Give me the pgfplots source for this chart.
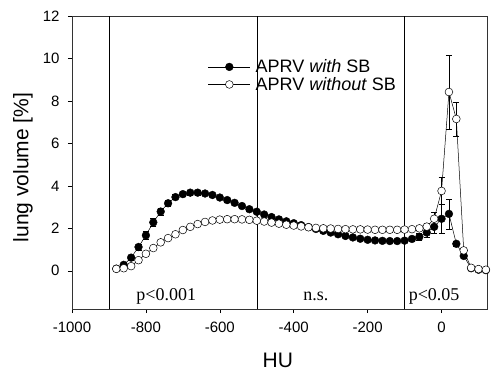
\documentclass[border=0pt]{standalone}
\usepackage{pgfplots}
\pgfplotsset{compat=1.18}
\usepackage{pgfplotstable}
\usepackage{fontspec}
\setmainfont{Liberation Sans}
\newfontfamily\timesf{Liberation Serif}

\pgfplotstableread{
x y e
-880 0.10 0.05
-860 0.28 0.08
-840 0.62 0.12
-820 1.12 0.15
-800 1.67 0.18
-780 2.28 0.18
-760 2.79 0.18
-740 3.18 0.15
-720 3.47 0.12
-700 3.61 0.10
-680 3.68 0.10
-660 3.68 0.10
-640 3.64 0.10
-620 3.57 0.08
-600 3.45 0.08
-580 3.33 0.08
-560 3.20 0.08
-540 3.05 0.08
-520 2.90 0.08
-500 2.78 0.06
-480 2.65 0.06
-460 2.53 0.06
-440 2.42 0.06
-420 2.33 0.06
-400 2.24 0.06
-380 2.15 0.06
-360 2.06 0.06
-340 1.97 0.06
-320 1.88 0.06
-300 1.80 0.06
-280 1.72 0.06
-260 1.64 0.06
-240 1.57 0.06
-220 1.51 0.06
-200 1.46 0.06
-180 1.43 0.06
-160 1.41 0.06
-140 1.40 0.06
-120 1.40 0.06
-100 1.42 0.08
-80 1.50 0.10
-60 1.60 0.15
-40 1.80 0.20
-20 2.07 0.30
0 2.45 0.70
20 2.68 0.70
40 1.27 0.10
60 0.70 0.10
80 0.12 0.05
100 0.05 0.03
120 0.03 0.02
}\withSB

\pgfplotstableread{
x y e
-880 0.09 0.04
-860 0.12 0.05
-840 0.22 0.06
-820 0.50 0.08
-800 0.80 0.10
-780 1.07 0.10
-760 1.34 0.10
-740 1.54 0.10
-720 1.72 0.10
-700 1.92 0.10
-680 2.07 0.08
-660 2.20 0.08
-640 2.30 0.08
-620 2.37 0.08
-600 2.41 0.08
-580 2.43 0.08
-560 2.43 0.08
-540 2.42 0.08
-520 2.40 0.06
-500 2.36 0.06
-480 2.32 0.06
-460 2.27 0.06
-440 2.22 0.06
-420 2.17 0.06
-400 2.13 0.06
-380 2.09 0.06
-360 2.05 0.06
-340 2.02 0.06
-320 2.00 0.06
-300 1.99 0.06
-280 1.97 0.06
-260 1.96 0.06
-240 1.95 0.06
-220 1.95 0.06
-200 1.94 0.06
-180 1.93 0.06
-160 1.93 0.06
-140 1.93 0.06
-120 1.93 0.06
-100 1.94 0.06
-80 1.96 0.08
-60 2.00 0.10
-40 2.08 0.15
-20 2.45 0.30
0 3.76 0.63
20 8.42 1.75
40 7.15 0.80
60 0.96 0.10
80 0.14 0.05
100 0.08 0.03
120 0.05 0.02
}\withoutSB

\begin{document}
\begin{tikzpicture}
\begin{axis}[
  scale only axis,
  width=415pt, height=293pt,
  xmin=-1000, xmax=123,
  ymin=-1.8, ymax=12,
  xtick={-1000,-800,-600,-400,-200,0},
  xticklabels={-1000,-800,-600,-400,-200,0},
  ytick={0,2,4,6,8,10,12},
  /pgf/number format/assume math mode=true,
  tick align=outside,
  xtick pos=left, ytick pos=left,
  major tick length=4pt,
  tick style={black, line width=0.5pt},
  axis line style={black!80, line width=0.6pt},
  ticklabel style={font=\fontsize{15}{18}\selectfont},
  xticklabel style={yshift=-5pt},
  yticklabel style={xshift=-5pt},
  xlabel={HU},
  ylabel={lung volume [\%]},
  label style={font=\fontsize{21}{25}\selectfont},
  xlabel style={at={(axis description cs:0.496,-0.177)}, anchor=center},
  ylabel style={at={(axis description cs:-0.118,0.483)}, anchor=center},
  clip=false,
  legend style={at={(0.325,0.862)}, anchor=north west, draw=none, fill=none,
    font=\fontsize{18}{21}\selectfont, row sep=-1pt, inner sep=1pt,
    nodes={inner xsep=5pt}},
  legend cell align=left,
  legend image code/.code={%
    \draw[mark repeat=2,mark phase=2,#1] plot coordinates {(0pt,0pt)(21pt,0pt)(42pt,0pt)};},
]
\addplot[black, line width=0.5pt, forget plot] coordinates {(-900,-1.8) (-900,12)};
\addplot[black, line width=0.5pt, forget plot] coordinates {(-500,-1.8) (-500,12)};
\addplot[black, line width=0.5pt, forget plot] coordinates {(-100,-1.8) (-100,12)};

\addplot[black, line width=0.5pt, mark=*, mark size=3.9pt,
  mark options={fill=black, draw=black, line width=0.4pt},
  error bars/.cd, y dir=both, y explicit,
  error bar style={black, line width=0.4pt},
  error mark options={rotate=90, mark size=3pt, black, line width=0.4pt}]
  table[x=x, y=y, y error=e] {\withSB};
\addlegendentry{APRV \textit{with} SB}

\addplot[black, line width=0.5pt, mark=*, mark size=3.9pt,
  mark options={fill=white, draw=black, line width=0.5pt},
  error bars/.cd, y dir=both, y explicit,
  error bar style={black, line width=0.4pt},
  error mark options={rotate=90, mark size=3pt, black, line width=0.4pt}]
  table[x=x, y=y, y error=e] {\withoutSB};
\addlegendentry{APRV \textit{without} SB}

\node[font=\timesf\fontsize{18}{21}\selectfont] at (axis cs:-745,-1.22) {p<0.001};
\node[font=\timesf\fontsize{18}{21}\selectfont] at (axis cs:-340,-1.22) {n.s.};
\node[font=\timesf\fontsize{18}{21}\selectfont] at (axis cs:-20,-1.22) {p<0.05};
\end{axis}
\pgfresetboundingbox
\path ([xshift=-72pt,yshift=-62pt]current axis.south west) rectangle ([xshift=4pt,yshift=16pt]current axis.north east);
\end{tikzpicture}
\end{document}
